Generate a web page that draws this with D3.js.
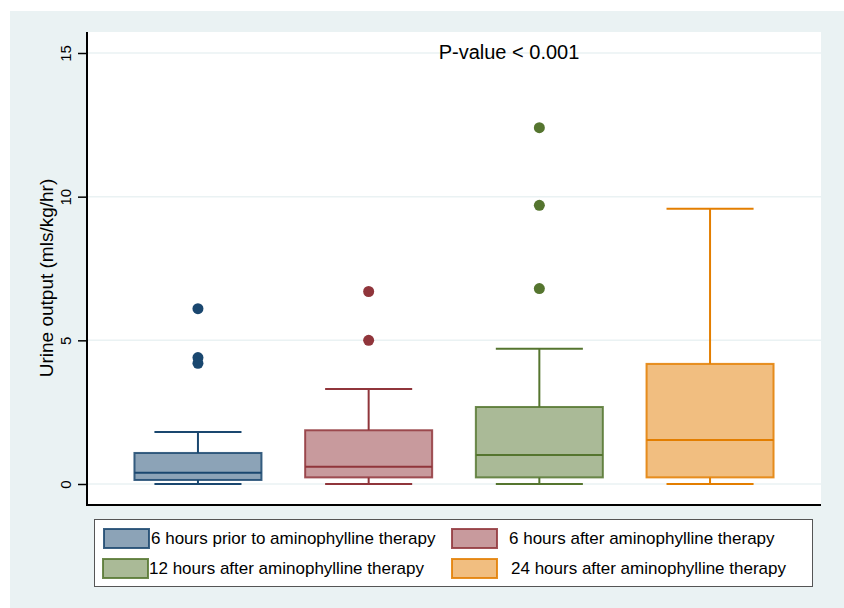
<!DOCTYPE html>
<html>
<head>
<meta charset="utf-8">
<script src="https://cdn.jsdelivr.net/npm/d3@7"></script>
<style>
  html, body { margin: 0; padding: 0; background: #ffffff; }
  svg { display: block; font-family: "Liberation Sans", Arial, sans-serif; }
</style>
</head>
<body>
<svg id="chart" width="844" height="608"></svg>
<script>
// ---- data ----
const categories = [
  "6 hours prior to aminophylline therapy",
  "6 hours after aminophylline therapy",
  "12 hours after aminophylline therapy",
  "24 hours after aminophylline therapy"
];
const lowerWhisker = [0, 0, 0, 0];
const q1 = [0.14, 0.23, 0.23, 0.23];
const median = [0.39, 0.60, 1.01, 1.53];
const q3 = [1.08, 1.87, 2.68, 4.18];
const upperWhisker = [1.81, 3.31, 4.71, 9.58];
const outliers = [[6.1, 4.4, 4.2], [6.7, 5.0], [12.4, 9.7, 6.8], []];
const yTicks = [0, 5, 10, 15];
const lineColors = ["#1A476F", "#90353B", "#55752F", "#E37E00"];
const fillColors = ["#8CA3B7", "#C89A9D", "#AABA97", "#F1BE80"];
const yTitle = "Urine output (mls/kg/hr)";
const annotation = "P-value < 0.001";

// ---- layout ----
const svg = d3.select("#chart");
const plot = { left: 87, right: 821, top: 32, bottom: 505 };

// outer background
svg.append("rect").attr("x", 10).attr("y", 11).attr("width", 834).attr("height", 597).attr("fill", "#EAF2F3");
// plot region
svg.append("rect").attr("x", plot.left).attr("y", plot.top)
  .attr("width", plot.right - plot.left).attr("height", plot.bottom - plot.top).attr("fill", "#ffffff");

const y = d3.scaleLinear().domain([0, 15]).range([484, 53]);
const x = d3.scalePoint().domain(categories).range([plot.left, plot.right]).padding(0.65);
const step = x.step();
const boxW = step * 0.744;
const capW = step * 0.51;

// gridlines
svg.append("g").selectAll("line").data(yTicks).join("line")
  .attr("x1", plot.left).attr("x2", plot.right)
  .attr("y1", d => y(d)).attr("y2", d => y(d))
  .attr("stroke", "#EAF2F3").attr("stroke-width", 1.5);

// y axis
const yAxis = d3.axisLeft(y).tickValues(yTicks).tickSize(9).tickPadding(0).tickFormat(d3.format("d"));
const gy = svg.append("g").attr("transform", `translate(${plot.left},0)`).call(yAxis);
gy.select(".domain").remove();
gy.selectAll(".tick line").attr("stroke", "#000").attr("stroke-width", 1.5);
gy.selectAll(".tick text")
  .attr("x", 0).attr("y", 0).attr("dy", 0)
  .attr("text-anchor", "middle")
  .attr("transform", "translate(-16,0) rotate(-90)")
  .style("font-size", "15px").attr("fill", "#000");

// axis lines
svg.append("line").attr("x1", plot.left).attr("x2", plot.left).attr("y1", plot.top).attr("y2", plot.bottom + 1)
  .attr("stroke", "#000").attr("stroke-width", 2);
svg.append("line").attr("x1", plot.left - 1).attr("x2", plot.right).attr("y1", plot.bottom).attr("y2", plot.bottom)
  .attr("stroke", "#000").attr("stroke-width", 2);

// y title
svg.append("text")
  .attr("transform", "translate(53,278) rotate(-90)")
  .attr("text-anchor", "middle").style("font-size", "19px").attr("fill", "#000")
  .text(yTitle);

// boxes
const groups = svg.append("g").selectAll("g").data(categories).join("g");
groups.each(function(c, i) {
  const g = d3.select(this);
  const cx = x(c);
  const col = lineColors[i];
  // whiskers
  g.append("line").attr("x1", cx).attr("x2", cx).attr("y1", y(q3[i])).attr("y2", y(upperWhisker[i]))
    .attr("stroke", col).attr("stroke-width", 2);
  g.append("line").attr("x1", cx).attr("x2", cx).attr("y1", y(q1[i])).attr("y2", y(lowerWhisker[i]))
    .attr("stroke", col).attr("stroke-width", 2);
  g.append("line").attr("x1", cx - capW / 2).attr("x2", cx + capW / 2).attr("y1", y(upperWhisker[i])).attr("y2", y(upperWhisker[i]))
    .attr("stroke", col).attr("stroke-width", 2);
  g.append("line").attr("x1", cx - capW / 2).attr("x2", cx + capW / 2).attr("y1", y(lowerWhisker[i])).attr("y2", y(lowerWhisker[i]))
    .attr("stroke", col).attr("stroke-width", 2);
  // box
  g.append("rect").attr("x", cx - boxW / 2).attr("width", boxW)
    .attr("y", y(q3[i])).attr("height", y(q1[i]) - y(q3[i]))
    .attr("fill", fillColors[i]).attr("stroke", col).attr("stroke-opacity", 0.85).attr("stroke-width", 2);
  // median
  g.append("line").attr("x1", cx - boxW / 2).attr("x2", cx + boxW / 2).attr("y1", y(median[i])).attr("y2", y(median[i]))
    .attr("stroke", col).attr("stroke-width", 2);
  // outliers
  g.selectAll("circle").data(outliers[i]).join("circle")
    .attr("cx", cx).attr("cy", d => y(d)).attr("r", 5.5).attr("fill", col);
});

// annotation
svg.append("text").attr("x", 509).attr("y", 59).attr("text-anchor", "middle")
  .style("font-size", "20px").attr("fill", "#000").text(annotation);

// legend
svg.append("rect").attr("x", 94.5).attr("y", 519.5).attr("width", 718).attr("height", 67)
  .attr("fill", "#fff").attr("stroke", "#555").attr("stroke-width", 1);
const legendPos = [
  { sx: 103, sy: 528, tx: 151, ty: 544 },
  { sx: 451, sy: 528, tx: 509, ty: 544 },
  { sx: 102, sy: 558, tx: 149, ty: 574 },
  { sx: 451, sy: 558, tx: 511, ty: 574 }
];
const leg = svg.append("g").selectAll("g").data(categories).join("g");
leg.append("rect")
  .attr("x", (d, i) => legendPos[i].sx + 1).attr("y", (d, i) => legendPos[i].sy + 1)
  .attr("width", 45).attr("height", 19)
  .attr("fill", (d, i) => fillColors[i]).attr("stroke", (d, i) => lineColors[i]).attr("stroke-opacity", 0.85).attr("stroke-width", 2);
leg.append("text")
  .attr("x", (d, i) => legendPos[i].tx).attr("y", (d, i) => legendPos[i].ty)
  .style("font-size", "17px").attr("fill", "#000").text(d => d);
</script>
</body>
</html>
